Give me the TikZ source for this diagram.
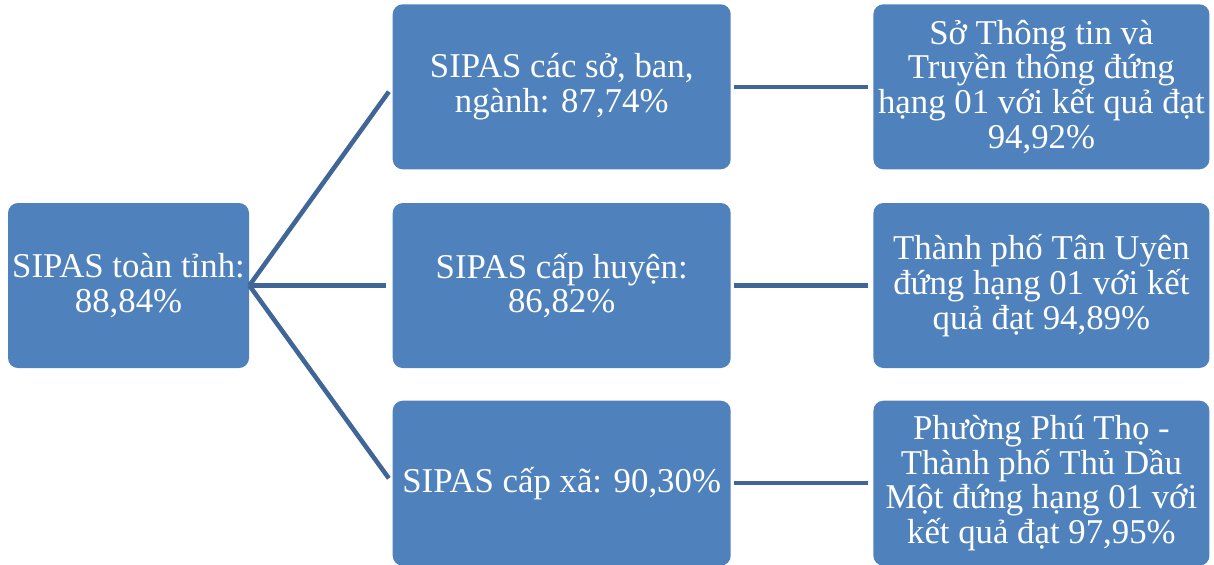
\documentclass[tikz,border=0pt]{standalone}
\usepackage{fontspec}
\setmainfont{Liberation Serif}
\usepackage{xcolor}
\usetikzlibrary{positioning}
\definecolor{BoxBlue}{HTML}{4F81BD}
\definecolor{LineBlue}{HTML}{3F6697}

\begin{document}
\begin{tikzpicture}[
  box/.style={fill=BoxBlue,rounded corners=0.2cm,text=white,align=center,inner sep=1pt,
    minimum height=3.3cm,font=\fontsize{19.8}{19.7}\selectfont},
  leftbox/.style={box,minimum width=4.82cm},
  midbox/.style={box,minimum width=6.76cm},
  rightbox/.style={box,minimum width=6.72cm},
  link/.style={draw=LineBlue,line width=2.6pt}
]
\useasboundingbox (0,0) rectangle (24.28,-11.28);
\node[leftbox] (tinh) at (2.57,-5.71) {SIPAS toàn tỉnh:\\88,84\%};
\node[midbox,right=2.86cm of tinh] (huyen) {SIPAS cấp huyện:\\86,82\%};
\node[midbox,above=0.66cm of huyen] (so) {SIPAS các sở, ban,\\ngành: 87,74\%};
\node[midbox,below=0.64cm of huyen] (xa) {SIPAS cấp xã: 90,30\%};
\node[rightbox,right=2.84cm of so] (stt) {Sở Thông tin và\\Truyền thông đứng\\hạng 01 với kết quả đạt\\94,92\%};
\node[rightbox,right=2.84cm of huyen] (tanuyen) {Thành phố Tân Uyên\\đứng hạng 01 với kết\\quả đạt 94,89\%};
\node[rightbox,right=2.84cm of xa] (phutho) {Phường Phú Thọ -\\Thành phố Thủ Dầu\\Một đứng hạng 01 với\\kết quả đạt 97,95\%};
% nhanh trai
\draw[link,shorten >=0.12cm] (tinh.east)--(so.west);
\draw[link,shorten >=0.12cm] (tinh.east)--(huyen.west);
\draw[link,shorten >=0.12cm] (tinh.east)--(xa.west);
% nhanh phai
\draw[link,shorten <=0.06cm,shorten >=0.1cm] (so)--(stt);
\draw[link,shorten <=0.06cm,shorten >=0.1cm] (huyen)--(tanuyen);
\draw[link,shorten <=0.06cm,shorten >=0.1cm] (xa)--(phutho);
\end{tikzpicture}
\end{document}
